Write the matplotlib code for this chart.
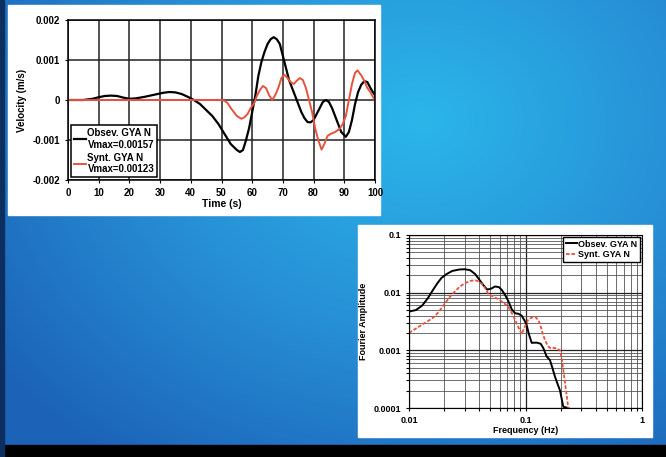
import numpy as np
import matplotlib
matplotlib.use("Agg")
import matplotlib.pyplot as plt
from matplotlib.patches import Rectangle
from matplotlib.colors import LinearSegmentedColormap

# velocity time series
t_obs = [0, 5, 8, 10, 12, 14, 16, 18, 20, 22, 25, 28, 31, 33, 35, 37, 39, 41, 43, 45,
         47, 49, 51, 53, 55, 56, 57, 58, 59, 60, 61, 62, 63, 64, 65, 66, 67, 68, 69, 70,
         71, 72, 73, 74, 75, 76, 77, 78, 79, 80, 81, 82, 83, 84, 85, 86, 87, 88, 89,
         90.5, 91.5, 92.5, 93.5, 94.5, 95.5, 96.5, 97.5, 98.5, 99.3, 100]
v_obs = [0, 0, 0.00003, 0.00007, 0.0001, 0.00011, 0.0001, 0.00006, 0.00003, 0.00004,
         0.00008, 0.00013, 0.00018, 0.0002, 0.00019, 0.00015, 0.00008, 0.0, -0.0001,
         -0.00025, -0.0004, -0.0006, -0.00085, -0.0011, -0.00125, -0.0013, -0.00125,
         -0.001, -0.0007, -0.0003, 0.0001, 0.0006, 0.00095, 0.0012, 0.0014, 0.00152,
         0.00157, 0.00152, 0.0014, 0.0011, 0.0008, 0.0005, 0.0003, 0.0001, -0.0001,
         -0.0003, -0.00045, -0.00055, -0.00056, -0.0005, -0.00035, -0.0002, -0.00005,
         0.0, -0.00005, -0.0002, -0.0004, -0.0006, -0.0008, -0.00092, -0.0008, -0.0005,
         -0.0001, 0.0002, 0.00038, 0.00047, 0.00045, 0.0003, 0.0002, 0.00012]
t_syn = [0, 50, 51, 52, 53, 54, 55, 56.5, 57.5, 58.5, 59.5, 60.5, 61.5, 62.5, 63.5, 64.5,
         65.5, 66.5, 67.5, 68.5, 69.5, 70.5, 71.5, 72.5, 73.5, 74.5, 75.5, 76.5, 77.5,
         78.5, 79.5, 80.5, 81.5, 82.6, 83.5, 84.5, 85.5, 87, 88.5, 89.5, 90.5, 91.5, 92.5,
         93.5, 94.3, 95.5, 96.5, 97.5, 98.5, 99.3, 100]
v_syn = [0, 0, -0.00002, -0.00008, -0.0002, -0.0003, -0.0004, -0.00047, -0.00043,
         -0.00035, -0.0002, -0.0001, 0.0001, 0.00025, 0.00035, 0.0003, 0.00012, 0.0,
         0.00012, 0.0003, 0.00055, 0.00063, 0.00055, 0.00045, 0.0004, 0.00048, 0.00055,
         0.0005, 0.0003, 0.0, -0.0003, -0.0007, -0.001, -0.00124, -0.0011, -0.0009,
         -0.00085, -0.0008, -0.00072, -0.0006, -0.0004, 0.0, 0.0004, 0.00068, 0.00074,
         0.00062, 0.00048, 0.0003, 0.0002, 0.00008, 0.0]
lab_obs_v = "Obsev. GYA N\nVmax=0.00157"
lab_syn_v = "Synt. GYA N\nVmax=0.00123"

# Fourier amplitude spectra
f_obs = [0.01, 0.0115, 0.013, 0.0145, 0.016, 0.0175, 0.019, 0.021, 0.0235, 0.027, 0.030,
         0.0335, 0.037, 0.040, 0.0435, 0.047, 0.051, 0.0547, 0.059, 0.0625, 0.067, 0.0711,
         0.076, 0.0813, 0.087, 0.0927, 0.098, 0.102, 0.107, 0.113, 0.125, 0.135, 0.142,
         0.152, 0.162, 0.170, 0.179, 0.19, 0.198, 0.205, 0.211, 0.233]
a_obs = [0.0047, 0.005, 0.006, 0.008, 0.011, 0.0145, 0.018, 0.021, 0.0238, 0.0252,
         0.0255, 0.0245, 0.021, 0.017, 0.0135, 0.0113, 0.0118, 0.0128, 0.0125, 0.0112,
         0.009, 0.0072, 0.0052, 0.0044, 0.0043, 0.0040, 0.0033, 0.0028, 0.0019, 0.00135,
         0.00136, 0.0013, 0.0011, 0.00078, 0.00068, 0.0005, 0.00035, 0.00025, 0.0002,
         0.00014, 0.000105, 0.0001]
f_syn = [0.01, 0.0115, 0.013, 0.0145, 0.0167, 0.0185, 0.0204, 0.0225, 0.0248, 0.027,
         0.030, 0.0335, 0.0369, 0.040, 0.0435, 0.048, 0.053, 0.0585, 0.064, 0.0711, 0.076,
         0.0813, 0.087, 0.0927, 0.098, 0.1057, 0.113, 0.121, 0.128, 0.133, 0.14, 0.147,
         0.155, 0.162, 0.175, 0.185, 0.198, 0.205, 0.211, 0.218, 0.226, 0.233]
a_syn = [0.002, 0.0024, 0.0028, 0.0032, 0.0039, 0.005, 0.0066, 0.0085, 0.0105, 0.0125,
         0.0145, 0.016, 0.0165, 0.0155, 0.0135, 0.0095, 0.0085, 0.0077, 0.0068, 0.0057,
         0.0045, 0.0034, 0.0025, 0.0019, 0.0025, 0.0034, 0.0037, 0.0038, 0.0034, 0.0029,
         0.002, 0.0015, 0.0012, 0.0011, 0.0011, 0.00108, 0.001, 0.0007, 0.00046, 0.00028,
         0.00016, 0.0001]
lab_obs_f = "Obsev. GYA N"
lab_syn_f = "Synt. GYA N"

W, H = 666, 457
RED = "#e5533d"
plt.rcParams['font.family'] = ['Liberation Sans', 'DejaVu Sans']
plt.rcParams['font.weight'] = 'bold'

fig = plt.figure(figsize=(W / 100, H / 100), dpi=100)


def box(x0, y0, x1, y1):
    # pixel box (from top-left) -> figure fraction rect
    return [x0 / W, 1 - y1 / H, (x1 - x0) / W, (y1 - y0) / H]


# blue background
bg = fig.add_axes([0, 0, 1, 1])
yy, xx = np.mgrid[0:H, 0:W]
d = np.sqrt(((xx - 420) / 520.0) ** 2 + ((yy - 120) / 420.0) ** 2)
cmap = LinearSegmentedColormap.from_list("bg", ["#2bb6ea", "#2790d6", "#1c63b8"])
bg.imshow(np.clip(d, 0, 1), cmap=cmap, vmin=0, vmax=1, aspect="auto",
          extent=[0, W, H, 0])
bg.add_patch(Rectangle((0, 445), W, 12, color="black"))
bg.add_patch(Rectangle((0, 0), 4, H, color="#0d2f60"))
bg.add_patch(Rectangle((8, 5), 372, 210, color="white"))
bg.add_patch(Rectangle((358, 225), 294, 212, color="white"))
bg.set_xlim(0, W)
bg.set_ylim(H, 0)
bg.axis("off")

fs = 7

# top: velocity
ax1 = fig.add_axes(box(68, 20, 375, 180))
ax1.plot(t_obs, v_obs, color="black", lw=1.6)
ax1.plot(t_syn, v_syn, color=RED, lw=1.4)
ax1.set_xlim(0, 100)
ax1.set_ylim(-0.002, 0.002)
ax1.set_xticks(np.arange(0, 101, 10))
ax1.set_yticks([-0.002, -0.001, 0, 0.001, 0.002])
ax1.set_yticklabels(["-0.002", "-0.001", "0", "0.001", "0.002"])
ax1.grid(True, color="#222222", lw=1.1)
ax1.tick_params(labelsize=fs, length=2, width=0.8)
ax1.set_xlabel("Time (s)", fontsize=fs + 0.5, fontweight="bold", labelpad=1)
ax1.set_ylabel("Velocity (m/s)", fontsize=fs, fontweight="bold", labelpad=4)
for s in ax1.spines.values():
    s.set_linewidth(1.1)
ax1.legend([lab_obs_v, lab_syn_v], loc="lower left", fontsize=fs,
           frameon=True, fancybox=False, edgecolor="black", framealpha=1,
           handlelength=1.2, handletextpad=0.2, borderpad=0.3, labelspacing=0.3,
           borderaxespad=0.3)
ax1.get_legend().get_frame().set_linewidth(1.1)

# bottom: Fourier amplitude
ax2 = fig.add_axes(box(409, 235, 642, 408))
ax2.loglog(f_obs, a_obs, color="black", lw=1.4, label=lab_obs_f)
ax2.loglog(f_syn, a_syn, color=RED, lw=1.3, ls="--", dashes=(2, 1), label=lab_syn_f)
ax2.set_xlim(0.01, 1)
ax2.set_ylim(0.0001, 0.1)
ax2.set_xticks([0.01, 0.1, 1])
ax2.set_xticklabels(["0.01", "0.1", "1"])
ax2.set_yticks([0.0001, 0.001, 0.01, 0.1])
ax2.set_yticklabels(["0.0001", "0.001", "0.01", "0.1"])
ax2.minorticks_on()
ax2.grid(True, which="major", color="#222222", lw=0.9)
ax2.grid(True, which="minor", color="#555555", lw=0.6)
ax2.tick_params(which="both", labelsize=fs - 0.5, length=2, width=0.8)
ax2.tick_params(which="minor", labelleft=False, labelbottom=False)
ax2.set_xlabel("Frequency (Hz)", fontsize=fs - 0.5, fontweight="bold", labelpad=1)
ax2.set_ylabel("Fourier Amplitude", fontsize=fs - 0.5, fontweight="bold", labelpad=4)
ax2.legend(loc="upper right", fontsize=fs - 0.5, frameon=True, fancybox=False,
           edgecolor="black", framealpha=1, handlelength=1.2, handletextpad=0.2,
           borderpad=0.3, labelspacing=0.2, borderaxespad=0.2)

fig.savefig("out.png", dpi=100)
